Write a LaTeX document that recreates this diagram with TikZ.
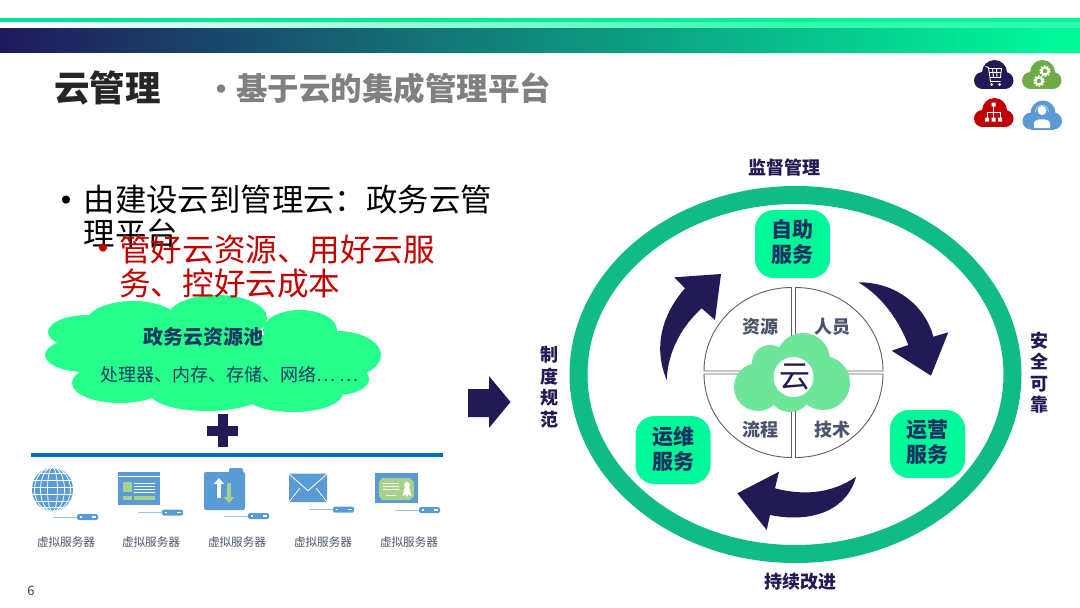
\documentclass[tikz,border=0pt]{standalone}
\usepackage{fontspec}
\setmainfont{Noto Sans CJK SC}
\usetikzlibrary{arrows.meta,positioning}
\definecolor{navy}{HTML}{211A55}
\definecolor{mint}{HTML}{00F79A}
\definecolor{ringg}{HTML}{11BB85}
\definecolor{cloudg}{HTML}{27FF8C}
\definecolor{cloudl}{HTML}{6FE59C}
\definecolor{slate}{HTML}{4A556B}
\definecolor{ink2}{HTML}{5F5F66}
\definecolor{redd}{HTML}{C00000}
\definecolor{icob}{HTML}{5B9BD5}
\definecolor{icog}{HTML}{A9D18E}
\definecolor{icogr}{HTML}{6FAC46}
\definecolor{rule}{HTML}{0070C0}
\newcommand{\fs}[1]{\fontsize{#1}{#1}\selectfont}
\tikzset{
  txt/.style={inner sep=0pt, align=left},
  ringlbl/.style={txt, align=center, text=navy, font=\fs{18}\bfseries},
  vringlbl/.style={ringlbl, font={\fontsize{18}{21.5}\selectfont\bfseries}},
  svcbox/.style={fill=mint, rounded corners=19pt, minimum width=75pt, minimum height=68pt, inner sep=0pt,
    align=center, text=navy!75!teal, text depth=5pt, font={\fontsize{21}{25}\selectfont\bfseries}},
  quad/.style={txt, text=slate, font=\fs{18}\bfseries},
  quadline/.style={draw=ink2, line width=0.9pt, fill=white},
  srvlbl/.style={txt, text=slate, font=\fs{11.6}},
  bigarr/.style={fill=navy, draw=none},
  wl/.style={draw=white, line width=0.8pt},
  pics/cloudicon/.style={code={
    \fill[#1] (1,-2) circle (12.5);
    \fill[#1] (-11,6) circle (8.5);
    \fill[#1] (11.5,6) circle (8.5);
    \fill[#1] (-11,6) rectangle (11.5,14.5);
  }},
  pics/srvbar/.style={code={
    \draw[icob!60, line width=1pt] (-24,0) -- (0,0);
    \fill[icob, rounded corners=1.5pt] (0,-3) rectangle (21,3);
    \fill[white] (3,-.7) rectangle (4.5,.7);
    \fill[white] (15,-.9) rectangle (19,.9);
  }},
}
\begin{document}
\begin{tikzpicture}[x=1pt,y=-1pt]
  \useasboundingbox (0,0) rectangle (1080,608);
  % header bars
  \shade[left color=white, right color=white!20!mint] (0,21) rectangle (800,28);
  \fill[white!20!mint] (800,21) rectangle (1080,28);
  \shade[left color=mint!85!teal, right color=mint] (0,18) rectangle (1080,21.3);
  \shade[left color=navy!95!blue, right color=mint] (0,28) rectangle (1050,52.5);
  \fill[mint] (1050,28) rectangle (1080,52.5);
  % titles
  \node[txt, anchor=west, text=black!85, font=\fs{35.5}\bfseries] (title) at (54,88) {云管理};
  \node[txt, anchor=center, text=black!50, font=\fs{30}\bfseries] (subdot) at (221,93) {•};
  \node[txt, anchor=west, text=black!50, font=\fs{31.5}\bfseries] (subtitle) at (236,88) {基于云的集成管理平台};
  % cloud icons
  \pic at (993.5,74.5) {cloudicon=navy};
  \pic at (1041.5,74.5) {cloudicon=icogr};
  \pic at (993.5,112.5) {cloudicon=redd};
  \pic at (1042,115) {cloudicon=icob};
  \begin{scope}[shift={(993.5,74.5)}, draw=white, line width=.9pt]
    \draw (-8,-8) -- (-5,-7) -- (-3,7) -- (7,7);
    \draw (-5,-6) -- (8,-6) -- (7,3) -- (-3.5,3) (-4.5,-2) -- (7.5,-2) (-1,-6) -- (0,3) (3,-6) -- (3.5,3);
    \fill[white] (-2,10) circle (1.5);
    \fill[white] (6,10) circle (1.5);
  \end{scope}
  \begin{scope}[shift={(1041.5,74.5)}, white]
    \foreach \gx/\gy in {3.5/-3.5, -2.5/6.5} {
      \draw[line width=2pt] (\gx,\gy) circle (3.5);
      \draw[line width=1.6pt, dash pattern=on 1.7pt off 1.4pt] (\gx,\gy) circle (5);
    }
  \end{scope}
  \begin{scope}[shift={(993.5,112.5)}, white]
    \fill (-2,-10) rectangle (2,-6) (-8.5,5) rectangle (-4.5,9) (-2,5) rectangle (2,9) (4.5,5) rectangle (8.5,9);
    \draw[line width=.8pt] (0,-6) -- (0,5) (-6.5,5) -- (-6.5,0) -- (6.5,0) -- (6.5,5);
  \end{scope}
  \begin{scope}[shift={(1042,115)}, white]
    \fill (0,-4.5) circle (4.5);
    \fill (-8,13) -- (-8,8) .. controls (-7,3) and (7,3) .. (8,8) -- (8,13) -- cycle;
    \draw[line width=.8pt, icob!40] (-6.5,-3) .. controls (-6.5,-12) and (6.5,-12) .. (6.5,-3);
  \end{scope}
  % left text
  \node[txt, text=black, font=\fs{38}] (dota) at (66,205) {•};
  \node[txt, anchor=north west, text=black, font={\fontsize{31.4}{34}\selectfont}] (bulleta) at (83.5,185) {由建设云到管理云\char"FF1A\relax 政务云管\\理平台};
  % resource pool
  \foreach \cx/\cy/\rx/\ry in {88/332/40/17, 85/355/40/17, 133/323/47/22, 217/318/50/23,
      300/330/37/20, 337/355/44/24, 337/379/32/16, 120/383/48/20, 207/393/57/18, 293/393/50/19} {
    \fill[cloudg] (\cx,\cy) ellipse [x radius=\rx, y radius=\ry];
  }
  \fill[cloudg] (95,335) rectangle (335,385);
  \node[txt, text=navy!70!teal, font=\fs{20}\bfseries] (pool) at (203,337) {政务云资源池};
  \node[txt, anchor=west, text=navy!70!teal, font=\fs{18}] (poolitems) at (100,375) {处理器、内存、存储、网络… …};
  \node[txt, text=redd, font=\fs{38}] (dotb) at (103,253) {•};
  \node[txt, anchor=north west, text=redd, font={\fontsize{31.6}{34}\selectfont}] (bulletb) at (119,235) {管好云资源、用好云服\\务、控好云成本};
  % plus and rule
  \fill[navy] (218,414) rectangle (228,447);
  \fill[navy] (207,425.5) rectangle (238,435.5);
  \draw[draw=rule, line width=3.6pt] (31,455) -- (443,455);
  % virtual servers
  \foreach \sx/\sy/\lx/\nm in {77/517/66/a, 162/512.5/151/b, 248/516/237/c, 333/509.5/323/d, 419/510/409/e} {
    \pic at (\sx,\sy) {srvbar};
    \node[srvlbl] (srv\nm) at (\lx,542) {虚拟服务器};
  }
  % globe
  \begin{scope}
    \clip (52.5,489.5) ellipse [x radius=20.5, y radius=22];
    \fill[icob] (30,465) rectangle (75,515);
    \foreach \gy in {-16,-9,-2,5,12,18} \draw[wl] (30,489.5+\gy) -- (75,489.5+\gy);
    \foreach \grx in {5,12,18} \draw[wl] (52.5,489.5) ellipse [x radius=\grx, y radius=22];
  \end{scope}
  % window
  \fill[icob] (118,472) rectangle (160,505);
  \draw[wl] (118,476) -- (160,476);
  \fill[icog] (123,482) rectangle (132,492);
  \fill[icog] (123,496) rectangle (132,500);
  \fill[icog] (133.5,496) rectangle (155,500);
  \foreach \wy in {483,486,489,492} \draw[wl] (134,\wy) -- (155,\wy);
  % folder
  \fill[icob, rounded corners=2pt] (204,472) rectangle (245,510);
  \fill[icob, rounded corners=2pt] (229,468) rectangle (243,476);
  \draw[white, line width=3.6pt, -{Triangle[length=6pt,width=10pt]}] (219,498) -- (219,478);
  \draw[icog, line width=3.6pt, -{Triangle[length=6pt,width=10pt]}] (229,483) -- (229,503);
  % envelope
  \fill[icob, rounded corners=1pt] (289,473.5) rectangle (327,502);
  \draw[wl] (289,474) -- (308,490.7) -- (327,474) (289,502) -- (300,488) (327,502) -- (316,488);
  % certificate
  \fill[icob] (375,473) rectangle (418,503);
  \fill[icog] (382,478) -- (410,478) -- (414,482) -- (414,496) -- (410,500) -- (382,500) -- (379,496) -- (379,482) -- cycle;
  \foreach \wy in {483,486,489} \draw[draw=white, line width=.7pt] (383,\wy) -- (399,\wy);
  \draw[draw=white, line width=.7pt] (386,495) -- (396,495);
  \fill[white] (407,485) circle (3);
  \fill[white] (405,487) -- (402.5,496) -- (405.5,494.5) -- (407,497) -- (408.5,494.5) -- (411.5,496) -- (409,487) -- cycle;
  % arrow between the sides
  \fill[bigarr] (468,389) -- (489,389) -- (489,376) -- (510.5,402) -- (489,428) -- (489,417) -- (468,417) -- cycle;
  % ring
  \draw[ringg, line width=18pt] (795.5,374.5) ellipse [x radius=217, y radius=179.5];
  \node[ringlbl] (top) at (784,168) {监督管理};
  \node[ringlbl] (bottom) at (800,582) {持续改进};
  \node[vringlbl] (left) at (549.5,387) {制\\度\\规\\范};
  \node[vringlbl] (right) at (1039,372.5) {安\\全\\可\\靠};
  % quadrants
  \draw[quadline] (795.5,371) -- (795.5,287.5) arc[start angle=-90, end angle=0, x radius=87.5, y radius=83.5] -- cycle;
  \draw[quadline] (791.5,371) -- (791.5,287.5) arc[start angle=-90, end angle=-180, x radius=87.5, y radius=83.5] -- cycle;
  \draw[quadline] (795.5,374) -- (795.5,457.5) arc[start angle=90, end angle=0, x radius=87.5, y radius=83.5] -- cycle;
  \draw[quadline] (791.5,374) -- (791.5,457.5) arc[start angle=90, end angle=180, x radius=87.5, y radius=83.5] -- cycle;
  \node[quad] (res) at (760.5,327) {资源};
  \node[quad] (ppl) at (832,327) {人员};
  \node[quad] (flow) at (760.5,430) {流程};
  \node[quad] (tech) at (832,430) {技术};
  % centre cloud
  \fill[cloudl] (803,360) circle (27);
  \fill[cloudl] (770,363) circle (18);
  \fill[cloudl] (758,387) circle (24);
  \fill[cloudl] (823,383) circle (27);
  \fill[cloudl] (790,390) circle (22);
  \fill[white] (793.5,377) circle (20);
  \node[txt, text=navy, font=\fs{31}] (yun) at (794.5,377) {云};
  % service boxes
  \node[svcbox] (self) at (792.5,244) {自助\\服务};
  \node[svcbox] (oper) at (927.5,444) {运营\\服务};
  \node[svcbox] (main) at (673,450) {运维\\服务};
  % curved arrows
  \fill[bigarr] (666.7,380) .. controls (652,345) and (664,312) .. (685,288.3) -- (674.3,277.3) -- (721,274) -- (715,320) -- (701.7,308.3) .. controls (683,325) and (668,350) .. cycle;
  \fill[bigarr] (858.3,282.3) .. controls (895,282) and (925,305) .. (933.3,336.7) -- (948.3,332.3) -- (931,375.7) -- (891.7,350.7) -- (908.3,345) .. controls (898,318) and (880,295) .. cycle;
  \fill[bigarr] (856,476.7) .. controls (830,495) and (800,495) .. (775,488.3) -- (779,471.7) -- (737.3,493.3) -- (766.7,530) -- (770,515) .. controls (815,524) and (848,508) .. cycle;
  % page number
  \node[txt, text=black!75, font=\fs{13}] (pageno) at (31,591) {6};
\end{tikzpicture}
\end{document}
